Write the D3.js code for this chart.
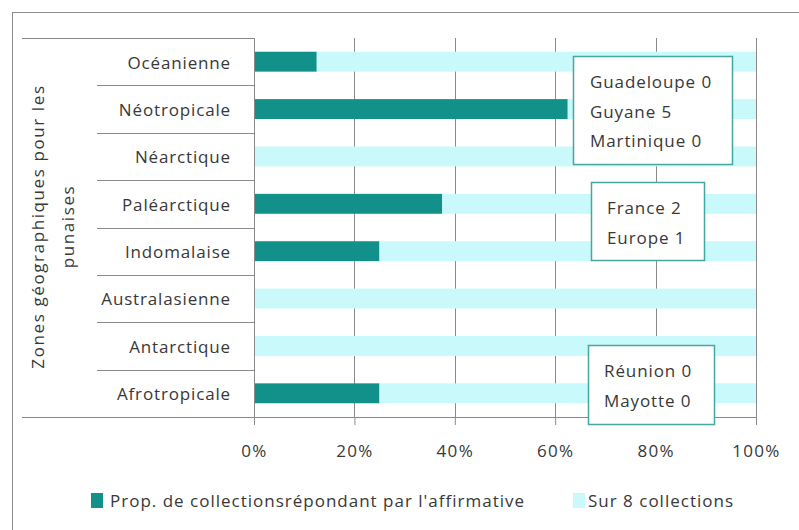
<!DOCTYPE html>
<html>
<head>
<meta charset="utf-8">
<script src="https://cdn.jsdelivr.net/npm/d3@7"></script>
<style>
  body { margin: 0; background: #fff; }
  svg text { font-family: "Open Sans", sans-serif; fill: #383838; }
</style>
</head>
<body>
<svg id="chart" width="799" height="530"></svg>
<script>
// zones géographiques (du haut vers le bas)
const categories = ["Océanienne", "Néotropicale", "Néarctique", "Paléarctique",
                    "Indomalaise", "Australasienne", "Antarctique", "Afrotropicale"];
// proportion de collections répondant par l'affirmative (sur 8)
const affirmative = [0.125, 0.625, 0, 0.375, 0.25, 0, 0, 0.25];
// complément jusqu'à 100 %
const rest = [0.875, 0.375, 1, 0.625, 0.75, 1, 1, 0.75];
const seriesNames = ["Prop. de collectionsrépondant par l'affirmative", "Sur 8 collections"];
const tickValues = [0, 0.2, 0.4, 0.6, 0.8, 1];
const yTitle = ["Zones géographiques pour les", "punaises"];
const notes = [
  ["Guadeloupe 0", "Guyane 5", "Martinique 0"],
  ["France 2", "Europe 1"],
  ["Réunion 0", "Mayotte 0"]
];

const colors = ["#11918a", "#c9f9fa"];
const gridColor = "#8a8a8a";
const fs = 17;

const svg = d3.select("#chart");

// cadre
svg.append("rect")
  .attr("x", 12.5).attr("y", 12.5)
  .attr("width", 820).attr("height", 540)
  .attr("fill", "#fff")
  .attr("stroke", "#8c8c8c");

const pLeft = 254, pRight = 756, pTop = 38, pBottom = 417;

const x = d3.scaleLinear().domain([0, 1]).range([pLeft, pRight]);
const y = d3.scaleBand().domain(categories).range([pTop, pBottom])
  .paddingInner(0.58).paddingOuter(0.29);

// grille verticale (derrière les barres)
svg.append("g").selectAll("line")
  .data(tickValues)
  .join("line")
  .attr("x1", d => Math.round(x(d)) + 0.5)
  .attr("x2", d => Math.round(x(d)) + 0.5)
  .attr("y1", pTop)
  .attr("y2", pBottom)
  .attr("stroke", gridColor);

// barres empilées
const rows = categories.map((c, i) => ({ cat: c, a: affirmative[i], b: rest[i] }));
const stack = d3.stack().keys(["a", "b"])(rows);

svg.append("g").selectAll("g")
  .data(stack)
  .join("g")
  .attr("fill", (d, i) => colors[i])
  .selectAll("rect")
  .data(d => d)
  .join("rect")
  .attr("x", d => x(d[0]))
  .attr("y", d => y(d.data.cat))
  .attr("width", d => x(d[1]) - x(d[0]))
  .attr("height", y.bandwidth());

// axe des X
const xAxis = svg.append("g")
  .attr("transform", `translate(0,${pBottom})`)
  .call(d3.axisBottom(x).tickValues(tickValues).tickFormat(d3.format(".0%"))
    .tickSize(8).tickPadding(20));
xAxis.select(".domain").remove();
xAxis.selectAll(".tick line").attr("stroke", gridColor);
xAxis.selectAll("text").attr("font-size", fs).attr("font-family", null)
  .attr("letter-spacing", "1.3px");

// axe des catégories
const yAxis = svg.append("g")
  .attr("transform", `translate(${pLeft},0)`)
  .call(d3.axisLeft(y).tickSize(0).tickPadding(23));
yAxis.select(".domain").remove();
yAxis.selectAll("text").attr("font-size", fs).attr("font-family", null)
  .attr("letter-spacing", "0.85px").attr("dy", "0.4em");

// trait vertical de l'axe des catégories et lignes horizontales
svg.append("line")
  .attr("x1", pLeft + 0.5).attr("x2", pLeft + 0.5)
  .attr("y1", pTop).attr("y2", pBottom + 8)
  .attr("stroke", gridColor);
svg.append("line")
  .attr("x1", 22).attr("x2", pLeft)
  .attr("y1", pTop + 0.5).attr("y2", pTop + 0.5)
  .attr("stroke", gridColor);
svg.append("line")
  .attr("x1", 22).attr("x2", pRight)
  .attr("y1", pBottom + 0.5).attr("y2", pBottom + 0.5)
  .attr("stroke", gridColor);
svg.append("g").selectAll("line")
  .data(categories.slice(1))
  .join("line")
  .attr("x1", 97).attr("x2", pLeft)
  .attr("y1", d => Math.round(y(d) - y.step() * y.paddingInner() / 2) + 0.5)
  .attr("y2", d => Math.round(y(d) - y.step() * y.paddingInner() / 2) + 0.5)
  .attr("stroke", gridColor);

// titre de l'axe des Y (deux lignes)
svg.append("g").selectAll("text")
  .data(yTitle)
  .join("text")
  .attr("transform", (d, i) => `translate(${37 + i * 30},${(pTop + pBottom) / 2 - 1}) rotate(-90)`)
  .attr("text-anchor", "middle")
  .attr("dominant-baseline", "central")
  .attr("font-size", fs)
  .attr("letter-spacing", "1.6px")
  .text(d => d);

// encadrés
const noteBoxes = [
  { x0: 573, x1: 732, y0: 56, y1: 164, tx: 590, ty: 88 },
  { x0: 591, x1: 704, y0: 182, y1: 260, tx: 607, ty: 214 },
  { x0: 588, x1: 714, y0: 345, y1: 424, tx: 604, ty: 377 }
];
const nb = svg.append("g").selectAll("g")
  .data(notes)
  .join("g");
nb.append("rect")
  .attr("x", (d, i) => noteBoxes[i].x0 + 0.5)
  .attr("y", (d, i) => noteBoxes[i].y0 + 0.5)
  .attr("width", (d, i) => noteBoxes[i].x1 - noteBoxes[i].x0)
  .attr("height", (d, i) => noteBoxes[i].y1 - noteBoxes[i].y0)
  .attr("fill", "#fff")
  .attr("stroke", "#45a7a1")
  .attr("stroke-width", 1.5);
nb.each(function (lines, i) {
  d3.select(this).selectAll("text")
    .data(lines)
    .join("text")
    .attr("x", noteBoxes[i].tx)
    .attr("y", (d, j) => noteBoxes[i].ty + j * 29.5)
    .attr("font-size", fs)
    .attr("letter-spacing", "0.9px")
    .text(d => d);
});

// légende
const legendPos = [{ sx: 91, tx: 110 }, { sx: 573, tx: 588 }];
const lg = svg.append("g").selectAll("g")
  .data(seriesNames)
  .join("g");
lg.append("rect")
  .attr("x", (d, i) => legendPos[i].sx)
  .attr("y", 493)
  .attr("width", 12)
  .attr("height", 15)
  .attr("fill", (d, i) => colors[i]);
lg.append("text")
  .attr("x", (d, i) => legendPos[i].tx)
  .attr("y", 507)
  .attr("font-size", fs)
  .attr("letter-spacing", "1px")
  .text(d => d);
</script>
</body>
</html>
